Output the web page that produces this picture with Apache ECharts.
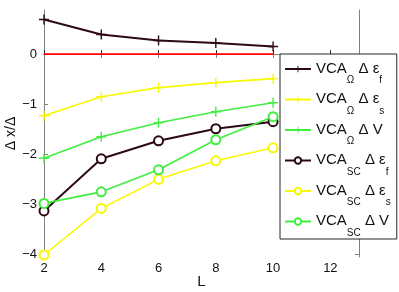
<!DOCTYPE html>
<html>
<head>
<meta charset="utf-8">
<script src="https://cdn.jsdelivr.net/npm/echarts@6/dist/echarts.min.js"></script>
<style>html,body{margin:0;padding:0;background:#fff}#c{width:399px;height:292px}</style>
</head>
<body>
<div id="c"></div>
<script>
const L = [2, 4, 6, 8, 10];
const vcaOmegaEf = [0.69, 0.39, 0.27, 0.22, 0.15];
const vcaOmegaEs = [-1.23, -0.85, -0.67, -0.57, -0.49];
const vcaOmegaV = [-2.08, -1.65, -1.37, -1.15, -0.97];
const vcaScEf = [-3.13, -2.09, -1.73, -1.49, -1.35];
const vcaScEs = [-4.01, -3.08, -2.50, -2.13, -1.87];
const vcaScV = [-2.98, -2.75, -2.31, -1.71, -1.25];
const zeroLine = [0, 0, 0, 0, 0];
const xTicks = [2, 4, 6, 8, 10, 12];
const yTicks = [-4, -3, -2, -1, 0];
const seriesNames = ['VCAΩ Δ εf', 'VCAΩ Δ εs', 'VCAΩ Δ V', 'VCASC Δ εf', 'VCASC Δ εs', 'VCASC Δ V'];
const legendRich = {
  'VCAΩ Δ εf': '{a|VCA}{s|Ω}{a| Δ ε}{s|f}',
  'VCAΩ Δ εs': '{a|VCA}{s|Ω}{a| Δ ε}{s|s}',
  'VCAΩ Δ V': '{a|VCA}{s|Ω}{a| Δ V}',
  'VCASC Δ εf': '{a|VCA}{s|SC}{a| Δ ε}{s|f}',
  'VCASC Δ εs': '{a|VCA}{s|SC}{a| Δ ε}{s|s}',
  'VCASC Δ V': '{a|VCA}{s|SC}{a| Δ V}'
};

const brown = '#2c0a12', yellow = '#f8f800', green = '#40ee40', red = '#ff0000';
const FONT = 'Liberation Sans, Arial, Helvetica, sans-serif';
const plus = 'path://M-1.4,-10 L1.4,-10 L1.4,-1.4 L10,-1.4 L10,1.4 L1.4,1.4 L1.4,10 L-1.4,10 L-1.4,1.4 L-10,1.4 L-10,-1.4 L-1.4,-1.4 Z';
const pair = arr => L.map((x, i) => [x, arr[i]]);
const minus = v => String(v).replace('-', '\u2212');

function mk(name, arr, color, sym, width) {
  return {
    name: name, type: 'line', data: pair(arr),
    symbol: sym, symbolSize: sym === 'emptyCircle' ? 9 : 10,
    showAllSymbol: true,
    lineStyle: {color: color, width: width},
    itemStyle: {color: color, borderColor: color, borderWidth: sym === 'emptyCircle' ? 1.6 : 0},
    emphasis: {disabled: true},
    animation: false
  };
}

const chart = echarts.init(document.getElementById('c'), null, {renderer: 'canvas'});
const axisCommon = {splitLine: {show: false}};
chart.setOption({
  animation: false,
  backgroundColor: '#fff',
  textStyle: {fontFamily: FONT},
  grid: {left: 44, top: 10, right: 40, bottom: 35, containLabel: false, outerBoundsMode: 'none'},
  xAxis: [
    Object.assign({
      type: 'value', min: 2, max: 13, interval: 2, position: 'bottom',
      name: 'L', nameLocation: 'middle', nameGap: 17, nameMoveOverlap: false,
      nameTextStyle: {fontSize: 15, color: '#111', fontFamily: FONT},
      axisLine: {lineStyle: {color: '#262626', width: 1}},
      axisTick: {inside: true, length: 4, customValues: xTicks, lineStyle: {color: '#262626'}},
      axisLabel: {customValues: xTicks, fontSize: 13, color: '#111', margin: 5, formatter: minus, fontFamily: FONT}
    }, axisCommon),
    Object.assign({
      type: 'value', min: 2, max: 13, interval: 2, position: 'top',
      axisLine: {lineStyle: {color: '#808080', width: 1}},
      axisTick: {inside: true, length: 4, customValues: xTicks, lineStyle: {color: '#808080'}},
      axisLabel: {show: false}
    }, axisCommon)
  ],
  yAxis: [
    Object.assign({
      type: 'value', min: -4.05, max: 0.88, position: 'left',
      name: 'Δ x/Δ', nameLocation: 'middle', nameGap: 26, nameRotate: 90, nameMoveOverlap: false,
      nameTextStyle: {fontSize: 14, color: '#111', fontFamily: FONT},
      axisLine: {lineStyle: {color: '#808080', width: 1}},
      axisTick: {inside: true, length: 4, customValues: yTicks, lineStyle: {color: '#808080'}},
      axisLabel: {customValues: yTicks, fontSize: 13, color: '#111', margin: 7, formatter: minus, fontFamily: FONT}
    }, axisCommon),
    Object.assign({
      type: 'value', min: -4.05, max: 0.88, position: 'right',
      axisLine: {lineStyle: {color: '#808080', width: 1}},
      axisTick: {inside: true, length: 4, customValues: yTicks, lineStyle: {color: '#808080'}},
      axisLabel: {show: false}
    }, axisCommon)
  ],
  legend: {
    data: seriesNames,
    orient: 'vertical', left: 280, top: 54,
    padding: [3, 6, 1, 4], itemGap: 2, itemWidth: 26, itemHeight: 8,
    backgroundColor: '#fff', borderColor: '#262626', borderWidth: 1,
    selectedMode: false, z: 10,
    formatter: n => legendRich[n],
    textStyle: {
      fontFamily: FONT,
      rich: {
        a: {fontSize: 15, lineHeight: 17, verticalAlign: 'top', padding: [4, 0, 0, 0], color: '#111', fontFamily: FONT},
        s: {fontSize: 10, lineHeight: 24, verticalAlign: 'top', padding: [18.5, 0, 0, 0], color: '#111', fontFamily: FONT}
      }
    }
  },
  series: [
    mk('zero', zeroLine, red, 'none', 1.6),
    mk(seriesNames[0], vcaOmegaEf, brown, plus, 2),
    mk(seriesNames[1], vcaOmegaEs, yellow, plus, 1.6),
    mk(seriesNames[2], vcaOmegaV, green, plus, 1.6),
    mk(seriesNames[3], vcaScEf, brown, 'emptyCircle', 2),
    mk(seriesNames[4], vcaScEs, yellow, 'emptyCircle', 1.6),
    mk(seriesNames[5], vcaScV, green, 'emptyCircle', 1.6)
  ]
});
</script>
</body>
</html>
